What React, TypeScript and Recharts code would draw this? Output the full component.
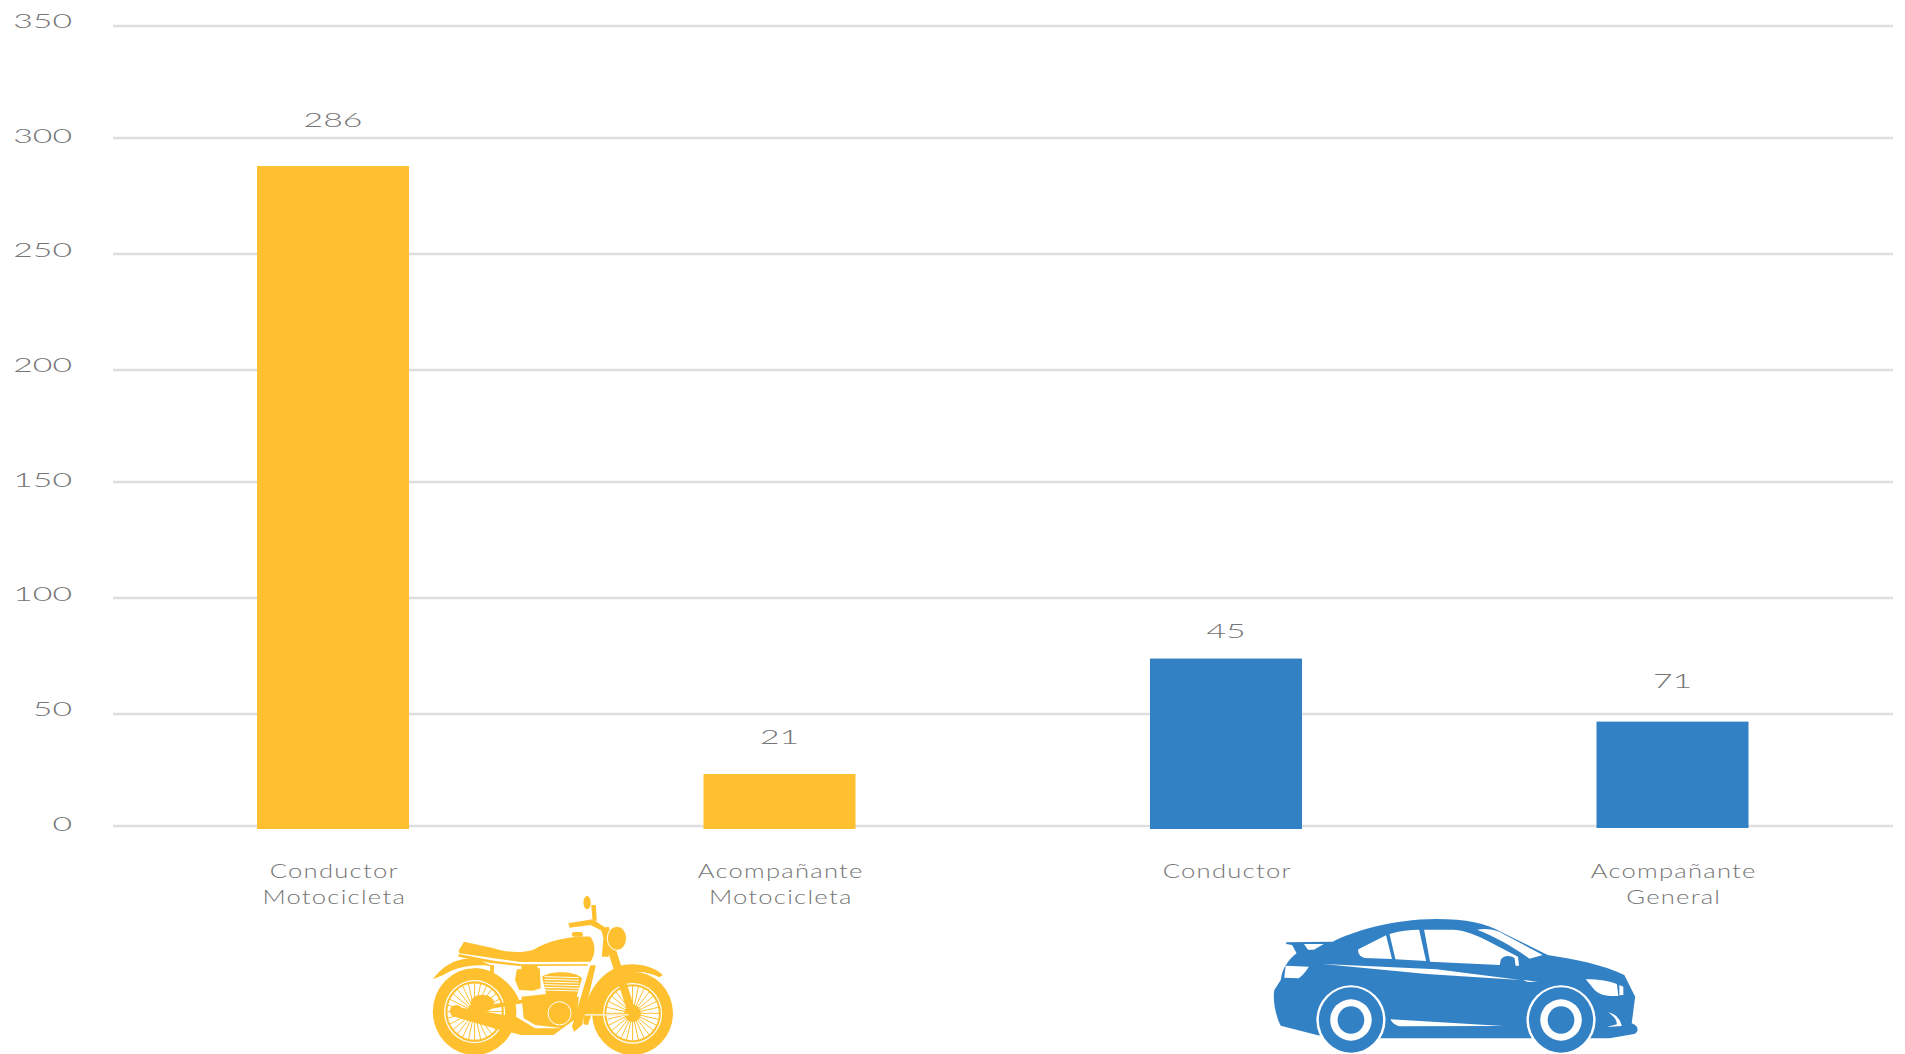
import React from "react";
import { BarChart, Bar, XAxis, YAxis, CartesianGrid, Cell, LabelList } from "recharts";

const categories = ["Conductor Motocicleta", "Acompañante Motocicleta", "Conductor", "Acompañante General"];
const barValues = [287.9, 23.2, 73.9, 46.6];
const shownLabels = [286, 21, 45, 71];
const yTicks = [0, 50, 100, 150, 200, 250, 300, 350];
// the reference's gridlines are not evenly spaced: relative size of each 50-unit step
const stepSizes = [112, 116, 116, 112, 116, 116, 112];

const YELLOW = "#fec02e";
const BLUE = "#3381c5";
const TEXT = "#757575";
const barColors = [YELLOW, YELLOW, BLUE, BLUE];
const labelGaps = [39, 30, 20.5, 34];
const bottomOverhang = [3, 3, 3, 2];
// tick labels are evenly spaced in the reference although the gridlines are not
const tickNudges = [3, 0, 1.5, 3, 0, 1.5, 3, 0];

const rows = categories.map((name, i) => ({ name, value: barValues[i], shown: shownLabels[i] }));

function makeStepScale() {
  let dom: number[] = [0, 350];
  let rng: number[] = [0, 1];
  const total = stepSizes.reduce((a, b) => a + b, 0);
  const scale: any = (v: number) => {
    let k = Math.max(0, Math.min(stepSizes.length - 1, Math.floor(v / 50)));
    let acc = 0;
    for (let i = 0; i < k; i++) acc += stepSizes[i];
    const frac = (acc + ((v - k * 50) / 50) * stepSizes[k]) / total;
    return rng[0] + (rng[1] - rng[0]) * frac;
  };
  scale.domain = (d?: number[]) => (d ? ((dom = d), scale) : dom);
  scale.range = (r?: number[]) => (r ? ((rng = r), scale) : rng);
  scale.ticks = () => yTicks;
  scale.tickFormat = () => (v: number) => String(v);
  scale.copy = () => makeStepScale().domain(dom).range(rng);
  return scale;
}
const stepScale = makeStepScale();

const YTick = ({ x, y, payload }: any) => (
  <text
    transform={`translate(${x + 2},${y + 1.5 + tickNudges[yTicks.indexOf(payload.value)]}) scale(1.65,1)`}
    textAnchor="end"
    fontFamily="Lato"
    fontWeight={300}
    fontSize={20.5}
    fill={TEXT}
  >
    {payload.value}
  </text>
);

const XTick = ({ x, y, payload }: any) => {
  const words = String(payload.value).split(" ");
  return (
    <g>
      {words.map((w: string, i: number) => (
        <text
          key={w}
          transform={`translate(${x + 1},${y + 16 + i * 25.6}) scale(1.25,1)`}
          textAnchor="middle"
          fontFamily="Lato"
          fontWeight={300}
          fontSize={20.5}
          letterSpacing={1}
          fill={TEXT}
        >
          {w}
        </text>
      ))}
    </g>
  );
};

const BarShape = ({ x, y, width, height, fill, index }: any) => (
  <rect x={x} y={y} width={width} height={height + bottomOverhang[index]} fill={fill} />
);

const ValueLabel = ({ x, y, width, index }: any) => (
  <text
    transform={`translate(${x + width / 2},${y - labelGaps[index]}) scale(1.65,1)`}
    textAnchor="middle"
    fontFamily="Lato"
    fontWeight={300}
    fontSize={20.5}
    fill={TEXT}
  >
    {shownLabels[index]}
  </text>
);

const Spoked = ({ cx, cy, rx, ry }: { cx: number; cy: number; rx: number; ry: number }) => {
  const spokes = Array.from({ length: 28 }, (_, i) => (i * Math.PI * 2) / 28);
  return (
    <g>
      <ellipse cx={cx} cy={cy} rx={rx} ry={ry} fill={YELLOW} />
      <ellipse cx={cx} cy={cy} rx={rx * 0.73} ry={ry * 0.73} fill="#fff" />
      <ellipse cx={cx} cy={cy} rx={rx * 0.7} ry={ry * 0.7} fill={YELLOW} />
      <ellipse cx={cx} cy={cy} rx={rx * 0.65} ry={ry * 0.65} fill="#fff" />
      {spokes.map((a, i) => (
        <line
          key={i}
          x1={cx}
          y1={cy}
          x2={cx + Math.cos(a) * rx * 0.66}
          y2={cy + Math.sin(a) * ry * 0.66}
          stroke={YELLOW}
          strokeWidth={1}
          vectorEffect="non-scaling-stroke"
        />
      ))}
      <ellipse cx={cx} cy={cy} rx={rx * 0.18} ry={ry * 0.18} fill={YELLOW} />
    </g>
  );
};

const Motorcycle = () => (
  <g transform="translate(200,780) scale(0.4592,0.3333)" fill={YELLOW}>
    <Spoked cx={598} cy={695} rx={91} ry={130} />
    <Spoked cx={942} cy={700} rx={88} ry={125} />
    <path d="M507 598 C525 560 560 530 600 535 L640 560 C600 550 560 560 530 585 Z" />
    <path d="M598 565 C640 565 680 610 695 660 L675 670 C660 620 630 590 598 575 Z" />
    <path d="M910 560 C940 545 985 555 1008 585 L1000 592 C975 575 950 570 925 585 C890 605 860 660 845 735 L835 733 C835 660 860 590 910 560 Z" />
    <path d="M563 512 L575 485 L640 505 C670 520 705 518 725 510 C760 480 810 468 850 470 C862 490 862 525 850 545 L700 546 L640 535 L565 520 Z" />
    <path d="M563 522 L640 542 L700 553 L845 553 L845 557 L695 558 L630 548 L563 530 Z" />
    <rect x={810} y={456} width={24} height={14} rx={5} />
    <path d="M850 556 L862 556 L832 735 L815 755 L810 740 Z" />
    <path d="M632 555 L640 555 L640 590 L632 590 Z" />
    <path d="M690 568 L740 565 L742 625 L725 632 L695 630 L686 600 Z" />
    <path d="M700 558 L735 558 L735 570 L700 570 Z" />
    <path d="M745 590 C765 572 815 572 832 595 L820 650 L755 650 Z" />
    {[590, 598, 606, 614, 622, 630].map((y) => (
      <line key={y} x1={750} x2={825} y1={y} y2={y + 3} stroke="#fff" strokeWidth={1} vectorEffect="non-scaling-stroke" />
    ))}
    <path d="M700 650 L770 640 L825 650 L820 715 L790 745 L730 735 L705 715 Z" />
    <ellipse cx={783} cy={700} rx={25} ry={35} fill={YELLOW} stroke="#fff" strokeWidth={1} vectorEffect="non-scaling-stroke" />
    <path d="M548 678 L690 712 L730 745 L790 745 L770 765 L700 765 L640 745 L548 708 Z" />
    <ellipse cx={558} cy={693} rx={14} ry={18} />
    <path d="M600 680 L770 645 L775 652 L610 692 Z" />
    <rect x={590} y={645} width={50} height={50} rx={22} />
    <path d="M872 445 L890 440 L950 700 L932 700 Z" />
    <path d="M880 450 L895 450 L890 530 L875 530 Z" />
    <path d="M802 430 L855 418 L885 445 L880 455 L850 435 L805 443 Z" />
    <path d="M852 375 L862 375 L864 422 L855 422 Z" />
    <ellipse cx={843} cy={368} rx={8} ry={20} />
    <ellipse cx={908} cy={475} rx={21} ry={36} stroke="#fff" strokeWidth={1} vectorEffect="non-scaling-stroke" />
    <ellipse cx={942} cy={700} rx={18} ry={26} />
    <rect x={838} y={702} width={95} height={5} fill="#fdeec8" />
  </g>
);

const CarWheel = ({ cx }: { cx: number }) => (
  <g>
    <ellipse cx={cx} cy={720} rx={70} ry={104} fill="#fff" />
    <ellipse cx={cx} cy={720} rx={65} ry={98} fill={BLUE} />
    <ellipse cx={cx} cy={720} rx={42} ry={62} fill="#fff" />
    <ellipse cx={cx} cy={720} rx={27} ry={41} fill={BLUE} />
  </g>
);

const Car = () => (
  <g transform="translate(1130,780) scale(0.4943,0.3333)">
    <path
      fill={BLUE}
      d="M316 487 L410 485 C450 455 530 417 620 417 C680 417 720 430 750 455 L845 525 C900 538 960 555 1000 585 L1022 650 L1015 730 C1030 738 1030 755 1020 762 L970 775 L500 775 L380 766 L305 737 C295 710 288 660 292 630 L305 600 C308 565 320 540 337 520 L328 495 L316 492 Z"
    />
    <g fill="#fff">
      <path d="M352 492 L392 492 L372 509 L360 509 Z" />
      <path d="M462 508 L518 466 L530 537 L474 534 C464 528 460 518 462 508 Z" />
      <path d="M525 462 C545 452 565 449 585 449 L599 543 L537 538 Z" />
      <path d="M595 449 L655 449 C680 452 700 465 720 480 L785 530 L787 557 L780 557 L778 535 C770 525 755 525 750 540 L748 555 L607 545 Z" />
      <path d="M702 449 C720 445 735 448 748 456 L835 525 L808 536 C780 505 740 470 702 449 Z" />
      <path d="M390 552 L620 568 L790 600 L600 582 Z" />
      <path d="M795 600 L825 605 L805 606 Z" />
      <path d="M315 557 L362 560 C355 575 348 590 340 595 L312 593 Z" />
      <path d="M922 598 C950 598 970 604 985 612 L988 648 C965 650 950 645 940 630 Z" />
      <path d="M990 615 L998 620 L998 645 L990 646 Z" />
      <path d="M527 718 L755 738 L545 739 C535 735 530 728 527 718 Z" />
      <path d="M967 697 C985 703 992 720 995 738 L965 741 L985 733 C985 718 977 707 967 697 Z" />
    </g>
    <CarWheel cx={447} />
    <CarWheel cx={872} />
  </g>
);

export default function App() {
  return (
    <div style={{ position: "absolute", left: 0, top: 0, width: 1905, height: 1054, overflow: "hidden", background: "#fff" }}>
      <BarChart width={1905} height={1054} data={rows} margin={{ top: 26, right: 12, bottom: 0, left: 0 }}>
        <CartesianGrid horizontal vertical={false} stroke="#dedede" strokeWidth={2.5} />
        <XAxis
          dataKey="name"
          height={228}
          axisLine={false}
          tickLine={false}
          interval={0}
          padding={{ left: -3, right: -3 }}
          tick={<XTick />}
          tickMargin={30}
        />
        <YAxis
          width={113}
          domain={[0, 350]}
          ticks={yTicks}
          scale={stepScale}
          axisLine={false}
          tickLine={false}
          tickMargin={37}
          tick={<YTick />}
        />
        <Bar dataKey="value" barSize={152} isAnimationActive={false} shape={<BarShape />}>
          {rows.map((r, i) => (
            <Cell key={r.name} fill={barColors[i]} />
          ))}
          <LabelList dataKey="shown" content={<ValueLabel />} />
        </Bar>
      </BarChart>
      <svg width={1905} height={1054} style={{ position: "absolute", left: 0, top: 0, pointerEvents: "none" }}>
        <Motorcycle />
        <Car />
      </svg>
    </div>
  );
}
